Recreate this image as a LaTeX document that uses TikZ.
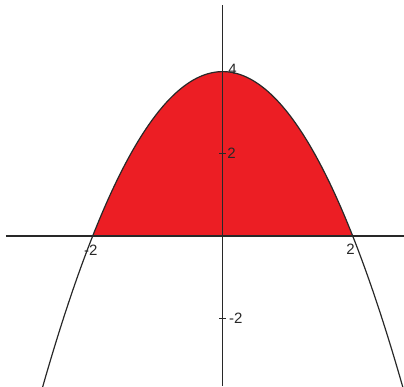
\documentclass[tikz,border=0pt]{standalone}
\usepackage{fontspec}
\setmainfont{Liberation Sans}
\definecolor{myred}{RGB}{236,30,36}
\definecolor{ink}{RGB}{40,40,40}
\begin{document}
\begin{tikzpicture}[x=65pt,y=41.1pt,
  axis/.style={draw=ink, line width=1.2pt},
  curve/.style={draw=ink, line width=1.2pt},
  tickmark/.style={draw=ink, line width=1pt},
  lab/.style={font=\fontsize{15}{15}\selectfont, text=ink, inner sep=0pt}]
\useasboundingbox (-3.426,-3.650) rectangle (2.789,5.742);
\begin{scope}
\clip (-3.426,-3.650) rectangle (2.789,5.742);
\fill[myred] plot[domain=-2:2, samples=80, smooth] (\x,{4-\x*\x}) -- cycle;
\draw[curve] plot[domain=-2.85:2.85, samples=120, smooth] (\x,{4-\x*\x});
\coordinate (xl) at (-3.334,0);
\coordinate (xr) at (2.789,0);
\coordinate (yt) at (0,5.62);
\coordinate (yb) at (0,-3.650);
\draw[axis] (xl) -- (xr);
\draw[axis] (yt) -- (yb);
\coordinate (t2a) at (-0.055,2);
\coordinate (t2b) at (0.055,2);
\coordinate (tm2a) at (-0.055,-2);
\coordinate (tm2b) at (0.055,-2);
\draw[tickmark] (t2a) -- (t2b);
\draw[tickmark] (tm2a) -- (tm2b);
\end{scope}
\node[lab] (l4) at (0.151,4.063) {4};
\node[lab] (l2y) at (0.135,2.02) {2};
\node[lab] (lm2y) at (0.2,-1.995) {-2};
\node[lab] (lm2x) at (-2.03,-0.34) {-2};
\node[lab] (l2x) at (1.966,-0.316) {2};
\end{tikzpicture}
\end{document}
